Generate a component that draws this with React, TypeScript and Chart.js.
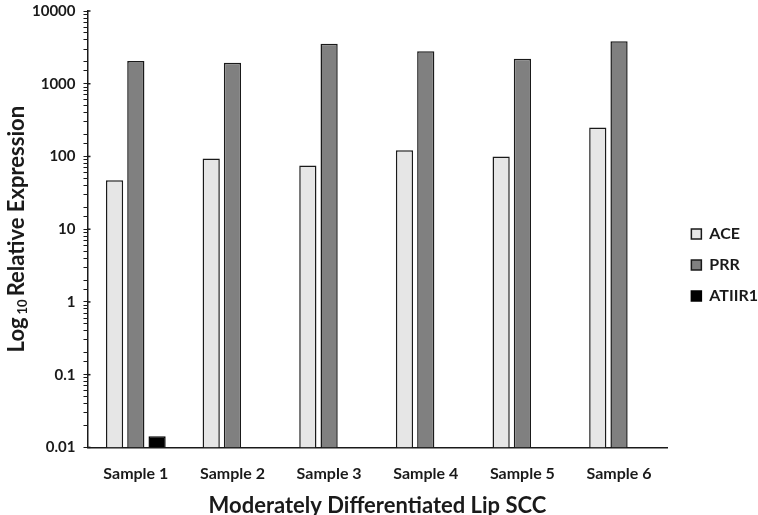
import React, { useEffect, useRef } from "react";
import { Chart, registerables } from "chart.js";

Chart.register(...registerables);

const samples = ["Sample 1", "Sample 2", "Sample 3", "Sample 4", "Sample 5", "Sample 6"];
const aceValues = [47, 94, 75, 122, 100, 250];
const prrValues = [2050, 1950, 3550, 2800, 2200, 3850];
const atiir1Values = [0.0142, null, null, null, null, null];
const majorTicks = [0.01, 0.1, 1, 10, 100, 1000, 10000];

const FONT = "Lato, 'Open Sans', sans-serif";
const INK = "#1a1a1a";

// draws the Log10 axis title with a real subscript, plus the right half of the major ticks
const decorPlugin = {
    id: "decor",
    afterDraw(chart: any) {
        const { ctx, chartArea } = chart;
        const y = chart.scales.y;
        ctx.save();

        ctx.strokeStyle = INK;
        ctx.lineWidth = 1.5;
        majorTicks.forEach(v => {
            const py = y.getPixelForValue(v);
            ctx.beginPath();
            ctx.moveTo(chartArea.left, py);
            ctx.lineTo(chartArea.left + 3, py);
            ctx.stroke();
        });

        const cx = y.left + 17;
        const cy = (chartArea.top + chartArea.bottom) / 2;
        ctx.translate(cx, cy);
        ctx.rotate(-Math.PI / 2);
        ctx.fillStyle = INK;
        ctx.textBaseline = "middle";
        ctx.textAlign = "left";
        const big = `bold 22px ${FONT}`;
        const small = `bold 13px ${FONT}`;
        ctx.font = big;
        const w1 = ctx.measureText("Log").width;
        const w3 = ctx.measureText("Relative Expression").width;
        ctx.font = small;
        const w2 = ctx.measureText("10").width + 6;
        const total = w1 + w2 + w3;
        let x = -total / 2;
        ctx.font = big;
        ctx.fillText("Log", x, 0);
        x += w1 + 3;
        ctx.font = small;
        ctx.fillText("10", x, 6);
        x += w2 - 3;
        ctx.font = big;
        ctx.fillText("Relative Expression", x, 0);
        ctx.restore();
    },
};

const App: React.FC = () => {
    const canvasRef = useRef<HTMLCanvasElement | null>(null);

    useEffect(() => {
        if (!canvasRef.current) return;
        const chart = new Chart(canvasRef.current, {
            type: "bar",
            data: {
                labels: samples,
                datasets: [
                    {
                        label: "ACE",
                        data: aceValues,
                        backgroundColor: "#e6e6e6",
                        borderColor: INK,
                        borderWidth: 1.5,
                    },
                    {
                        label: "PRR",
                        data: prrValues,
                        backgroundColor: "#808080",
                        borderColor: INK,
                        borderWidth: 1.5,
                    },
                    {
                        label: "ATIIR1",
                        data: atiir1Values,
                        backgroundColor: "#000000",
                        borderColor: "#000000",
                        borderWidth: 1.5,
                    },
                ],
            },
            options: {
                animation: false,
                responsive: true,
                maintainAspectRatio: false,
                datasets: { bar: { categoryPercentage: 0.66, barPercentage: 0.81 } },
                layout: { padding: { top: 11, right: -10, bottom: -4, left: 0 } },
                scales: {
                    x: {
                        grid: { display: false },
                        border: { display: true, color: INK, width: 1.5 },
                        ticks: { color: INK, font: { family: FONT, size: 16, weight: "bold" }, padding: 9 },
                        title: {
                            display: true,
                            text: "Moderately Differentiated Lip SCC",
                            color: INK,
                            font: { family: FONT, size: 22, weight: "bold" },
                            padding: { top: 0, bottom: 0 },
                        },
                    },
                    y: {
                        type: "logarithmic",
                        min: 0.01,
                        max: 10000,
                        grid: { drawOnChartArea: false, drawTicks: true, tickLength: 4, color: INK, lineWidth: 1 },
                        border: { display: true, color: INK, width: 1.5 },
                        ticks: {
                            autoSkip: false,
                            color: INK,
                            padding: 8,
                            font: { family: FONT, size: 15, weight: "bold" },
                            callback: (v: any) => {
                                const n = Number(v);
                                return majorTicks.some(m => Math.abs(m - n) < m * 1e-6) ? String(n) : "";
                            },
                        },
                        title: {
                            display: true,
                            text: "Log10 Relative Expression",
                            color: "rgba(0,0,0,0)",
                            font: { family: FONT, size: 20, weight: "bold" },
                            padding: { top: 0, bottom: 0 },
                        },
                        afterFit: (s: any) => {
                            s.paddingTop = 0;
                            s.paddingBottom = 0;
                        },
                    },
                    // empty spacer between the plot and the legend
                    gap: {
                        type: "linear",
                        position: "right",
                        display: true,
                        grid: { display: false },
                        border: { display: false },
                        ticks: { display: false },
                        afterFit: (s: any) => {
                            s.width = 9;
                            s.paddingTop = 0;
                            s.paddingBottom = 0;
                        },
                    },
                },
                plugins: {
                    legend: {
                        position: "right",
                        labels: {
                            color: INK,
                            boxWidth: 10,
                            boxHeight: 10,
                            padding: 15,
                            font: { family: FONT, size: 16, weight: "bold" },
                        },
                    },
                    tooltip: { enabled: false },
                },
            },
            plugins: [decorPlugin],
        });

        return () => {
            chart.destroy();
        };
    }, []);

    return (
        <div style={{ position: "fixed", left: 0, top: 0, width: "758px", height: "515px", background: "#fff" }}>
            <canvas ref={canvasRef}></canvas>
        </div>
    );
};

export default App;
